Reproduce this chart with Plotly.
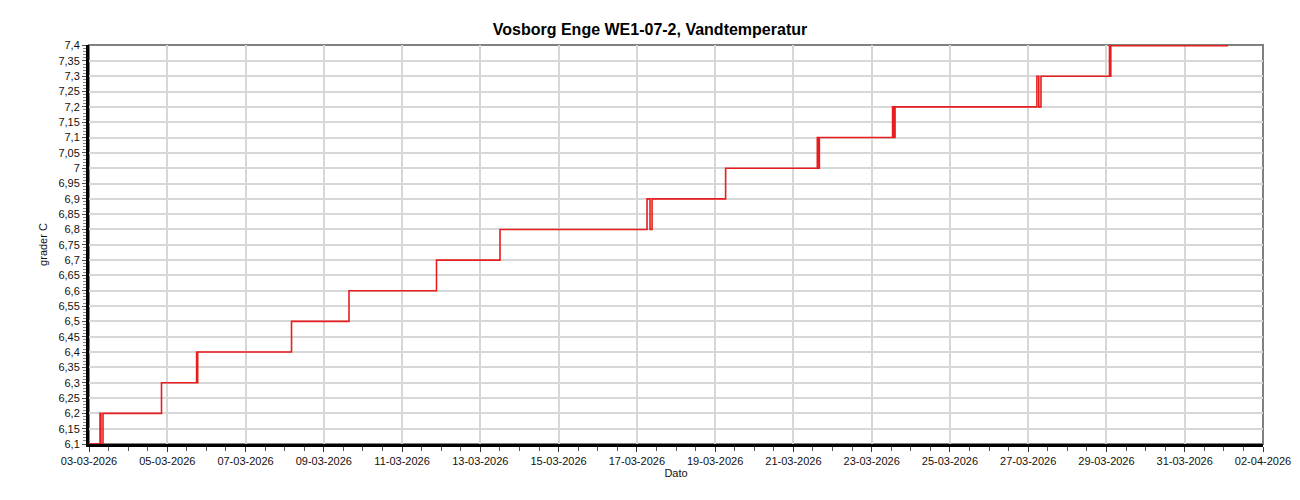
import plotly.graph_objects as go

# Measured step series (timestamps and water temperature, degrees C)
times = [
    "2026-03-03 00:00", "2026-03-03 06:45", "2026-03-03 07:20", "2026-03-03 08:35",
    "2026-03-04 20:28",
    "2026-03-05 18:00", "2026-03-05 18:20", "2026-03-05 18:40",
    "2026-03-08 04:12",
    "2026-03-09 15:28",
    "2026-03-11 21:07",
    "2026-03-13 12:04",
    "2026-03-17 06:14", "2026-03-17 08:04", "2026-03-17 09:19",
    "2026-03-19 06:26",
    "2026-03-21 14:40", "2026-03-21 15:15", "2026-03-21 15:55",
    "2026-03-23 12:50", "2026-03-23 13:30", "2026-03-23 14:20",
    "2026-03-27 05:20", "2026-03-27 06:30", "2026-03-27 07:50",
    "2026-03-29 01:50", "2026-03-29 02:20", "2026-03-29 02:40",
    "2026-04-01 02:37",
]
temps = [
    6.1, 6.2, 6.1, 6.2,
    6.3,
    6.4, 6.3, 6.4,
    6.5,
    6.6,
    6.7,
    6.8,
    6.9, 6.8, 6.9,
    7.0,
    7.1, 7.0, 7.1,
    7.2, 7.1, 7.2,
    7.3, 7.2, 7.3,
    7.4, 7.3, 7.4,
    7.4,
]

y_tick_values = [round(6.1 + 0.05 * i, 2) for i in range(27)]
y_tick_labels = ["{:g}".format(v).replace(".", ",") for v in y_tick_values]

title_text = "Vosborg Enge WE1-07-2, Vandtemperatur"

fig = go.Figure()
fig.add_trace(go.Scatter(
    x=times, y=temps, mode="lines", line_shape="hv",
    line=dict(color="rgb(232,30,30)", width=1.6),
    showlegend=False,
))

font_family = "Liberation Sans, Arial, sans-serif"

W, H = 1284, 484
fig.update_layout(
    width=W, height=H,
    margin=dict(l=81, r=29, t=37, b=48),
    plot_bgcolor="white", paper_bgcolor="white",
    font=dict(family=font_family, size=11, color="#111"),
    title=dict(text="<b>" + title_text + "</b>", x=642 / W, xref="container",
               y=1 - 21 / H, yref="container", xanchor="center", yanchor="middle",
               font=dict(size=16, family=font_family, color="#000")),
    shapes=[dict(type="rect", xref="paper", yref="paper", x0=0, y0=0, x1=1, y1=1,
                 line=dict(color="#808080", width=2), layer="below")],
)

fig.update_xaxes(
    type="date",
    range=["2026-03-03 00:00", "2026-04-02 00:00"],
    tick0="2026-03-03", dtick=2 * 86400000,
    tickformat="%d-%m-%Y",
    showgrid=True, gridcolor="rgb(215,215,215)", gridwidth=2,
    showline=True, linecolor="black", linewidth=3,
    ticks="outside", ticklen=5, tickcolor="#333", tickwidth=1,
    minor=dict(dtick=43200000, ticks="outside", ticklen=4, tickcolor="#555", showgrid=False),
    tickfont=dict(size=11, color="#111"),
    ticklabeloverflow="allow",
    automargin=False,
    title=dict(text="Dato", font=dict(size=11), standoff=2),
    zeroline=False,
)
fig.update_yaxes(
    range=[6.1, 7.402],
    tickmode="array", tickvals=y_tick_values, ticktext=y_tick_labels,
    showgrid=True, gridcolor="rgb(215,215,215)", gridwidth=2,
    showline=True, linecolor="black", linewidth=3,
    ticks="outside", ticklen=4, tickcolor="#555", tickwidth=1,
    minor=dict(dtick=0.01, tick0=6.1, ticks="outside", ticklen=3, tickcolor="#888", showgrid=False),
    tickfont=dict(size=11, color="#111"),
    title=dict(text="grader C", font=dict(size=11), standoff=9),
    zeroline=False,
)

fig.write_html("out.html")
